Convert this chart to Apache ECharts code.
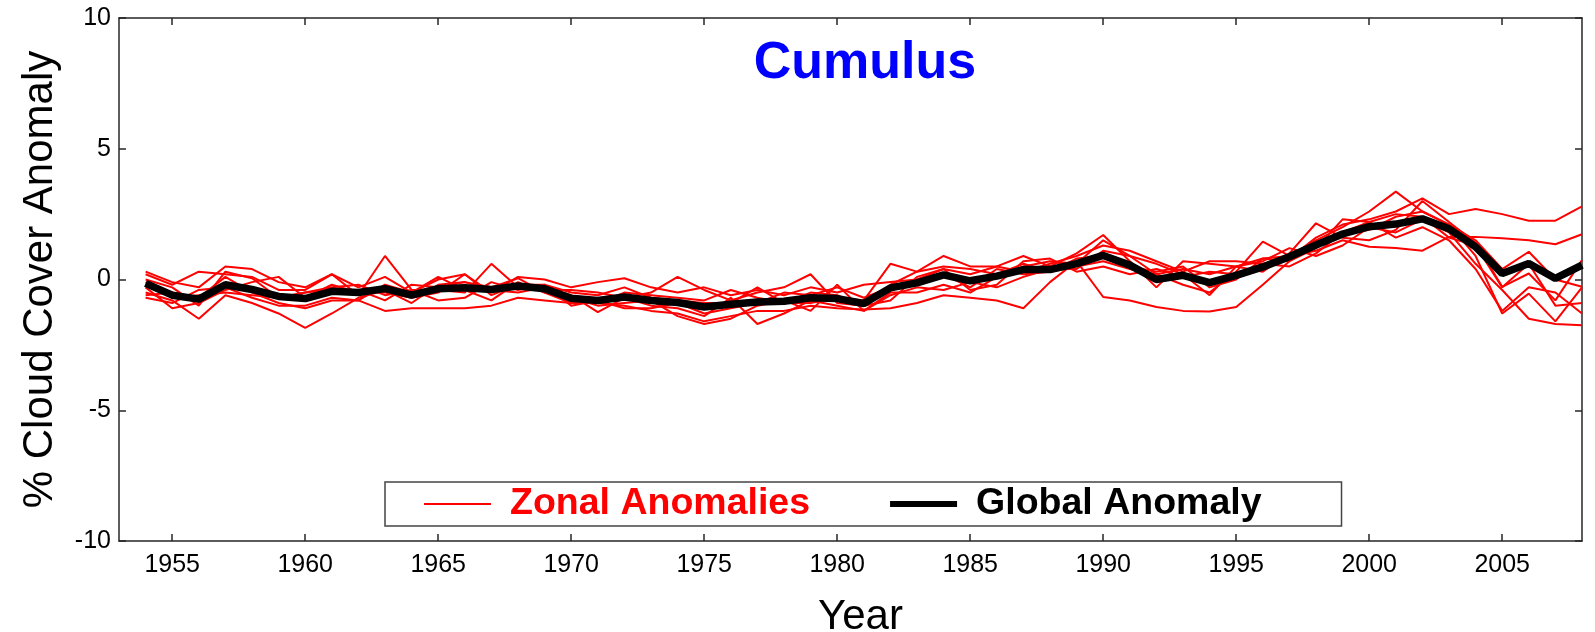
<!DOCTYPE html>
<html>
<head>
<meta charset="utf-8">
<script src="https://cdn.jsdelivr.net/npm/echarts@6/dist/echarts.min.js"></script>
<style>
html,body{margin:0;padding:0;background:#fff;}
#chart{width:1595px;height:632px;}
</style>
</head>
<body>
<div id="chart"></div>
<script>
const years = [1954,1955,1956,1957,1958,1959,1960,1961,1962,1963,1964,1965,1966,1967,1968,1969,1970,1971,1972,1973,1974,1975,1976,1977,1978,1979,1980,1981,1982,1983,1984,1985,1986,1987,1988,1989,1990,1991,1992,1993,1994,1995,1996,1997,1998,1999,2000,2001,2002,2003,2004,2005,2006,2007,2008];
const xTicks = [1955,1960,1965,1970,1975,1980,1985,1990,1995,2000,2005];
const yTicks = [-10,-5,0,5,10];

const globalAnomaly = [-0.15,-0.6,-0.75,-0.2,-0.38,-0.65,-0.73,-0.45,-0.5,-0.35,-0.6,-0.35,-0.32,-0.38,-0.25,-0.35,-0.72,-0.8,-0.67,-0.8,-0.88,-1.05,-0.95,-0.86,-0.83,-0.7,-0.73,-0.92,-0.32,-0.13,0.18,-0.05,0.13,0.38,0.38,0.61,0.92,0.55,0.0,0.16,-0.12,0.16,0.48,0.87,1.32,1.74,2.02,2.12,2.32,1.94,1.25,0.23,0.61,0.04,0.55];

const zonal1 = [0.3,-0.1,-0.3,0.5,0.4,-0.1,-0.3,0.2,-0.3,0.1,-0.5,0.0,0.2,-0.5,0.1,0.0,-0.3,-0.1,0.05,-0.3,-0.5,-0.3,-0.6,-0.4,-0.6,-0.3,-0.5,-0.2,-0.1,0.0,0.4,0.2,0.5,0.3,0.6,0.9,1.3,1.1,0.7,0.3,0.7,0.7,0.6,0.8,1.6,2.1,2.3,2.6,3.1,2.5,2.7,2.5,2.25,2.25,2.8];
const zonal2 = [0.0,-0.3,-1.0,0.3,0.05,-0.7,-0.5,-0.4,-0.4,-0.8,-0.2,-0.3,-0.1,-0.3,0.05,-0.5,-0.9,-0.9,-0.5,-0.6,-0.7,-0.8,-0.4,-0.7,-0.9,-0.9,-0.7,-0.8,0.6,0.3,0.5,0.4,0.2,0.6,0.3,0.5,0.7,0.4,0.2,0.4,0.2,0.5,0.8,0.9,1.1,1.5,1.25,1.2,1.1,1.63,1.63,1.58,1.5,1.35,1.73];
const zonal3 = [-0.7,-0.9,-0.4,-0.3,-0.7,-1.0,-1.0,-0.7,-0.8,-1.2,-1.1,-1.1,-1.1,-1.0,-0.7,-0.8,-0.9,-0.9,-1.0,-1.2,-1.3,-1.6,-1.4,-1.2,-1.2,-1.0,-1.1,-1.15,-1.1,-0.9,-0.6,-0.7,-0.8,-1.1,-0.1,0.7,-0.67,-0.8,-1.05,-1.2,-1.22,-1.05,-0.2,0.7,1.3,1.7,1.9,2.4,2.6,2.1,1.5,0.4,1.06,0.0,-0.28];
const zonal4 = [-0.5,-0.8,-1.5,-0.6,-0.9,-1.3,-1.85,-1.3,-0.7,-0.4,-0.9,-0.2,-0.1,-0.4,-0.5,-0.3,-0.6,-1.25,-0.7,-1.0,-1.1,-1.4,-0.7,-1.7,-1.3,-0.8,-1.0,-1.2,-0.5,-0.5,-0.2,-0.5,0.1,0.5,0.7,0.6,1.5,0.9,0.2,-0.2,-0.5,0.3,1.45,0.9,1.5,2.0,2.6,3.36,2.6,2.1,0.9,-1.3,-0.54,-1.6,-0.3];
const zonal5 = [0.2,-0.2,0.3,0.2,0.1,-0.4,-0.4,0.2,-0.6,0.9,-0.4,-0.4,-0.5,0.6,-0.3,-0.4,-0.4,-0.5,-0.7,-0.5,0.1,-0.4,-0.8,-0.5,-0.3,0.2,-0.9,-1.0,-0.2,0.3,0.9,0.5,0.5,0.9,0.5,1.0,1.7,0.7,-0.3,0.7,0.6,0.5,0.3,1.0,2.15,1.6,1.5,1.9,3.0,2.2,1.4,-0.28,0.23,-0.8,0.74];
const zonal6 = [-0.3,-1.1,-0.9,-0.4,-0.1,0.1,-0.7,-0.2,-0.5,-0.5,-0.7,-0.5,0.2,-0.6,-0.2,-0.2,-1.0,-0.8,-1.1,-1.1,-0.9,-1.3,-1.1,-0.9,-0.5,-0.6,-0.3,-0.7,-0.3,-0.1,0.2,-0.3,0.4,0.2,0.3,0.8,0.9,0.5,0.3,0.5,-0.3,0.0,0.8,0.7,1.2,2.3,2.2,1.6,2.0,1.5,0.4,-1.2,-0.3,-0.5,-1.3];
const zonal7 = [-0.6,-0.5,-0.7,0.1,-0.5,-0.9,-1.1,-0.8,-0.8,-0.2,-0.5,0.1,-0.4,-0.8,-0.1,-0.5,-0.7,-1.0,-0.9,-0.8,-1.4,-1.7,-1.5,-1.0,-0.8,-1.2,-0.2,-1.2,-0.6,-0.3,-0.4,-0.1,-0.3,0.1,0.4,0.4,1.1,0.9,0.6,0.2,-0.6,0.5,0.7,1.2,0.9,1.3,2.0,1.8,2.3,1.8,0.6,-0.4,-1.5,-1.7,-1.75];
const zonal8 = [-0.1,-0.7,-0.6,-0.5,-0.6,-0.7,-0.5,-0.3,-0.2,-0.6,-0.4,-0.8,-0.7,-0.1,-0.4,-0.2,-0.5,-0.6,-0.3,-0.7,-0.8,-0.9,-0.9,-0.3,-0.9,-0.5,-0.6,-1.0,-0.8,0.1,0.4,-0.4,-0.2,0.7,0.8,0.3,0.5,0.2,0.4,0.1,0.3,0.2,0.6,0.5,1.0,1.8,2.2,2.5,2.4,1.6,1.3,-0.3,0.6,-1.0,-0.9];

const zonalSeries = [zonal1, zonal2, zonal3, zonal4, zonal5, zonal6, zonal7, zonal8];

const pair = arr => years.map((y, i) => [y, arr[i]]);
const FONT = 'Liberation Sans, Arial, Helvetica, sans-serif';
const axisCol = '#262626';

const series = zonalSeries.map(z => ({
  name: 'Zonal Anomalies', type: 'line', data: pair(z), symbol: 'none',
  lineStyle: { color: '#ff0000', width: 2 }, itemStyle: { color: '#ff0000' }, z: 2
}));
series.push({
  name: 'Global Anomaly', type: 'line', data: pair(globalAnomaly), symbol: 'none',
  lineStyle: { color: '#000000', width: 7.5 }, itemStyle: { color: '#000000' }, z: 3
});

const chart = echarts.init(document.getElementById('chart'), null, { renderer: 'canvas' });
chart.setOption({
  backgroundColor: '#ffffff',
  animation: false,
  title: {
    text: 'Cumulus', left: 860, top: 33, textAlign: 'center',
    textStyle: { color: '#0000ff', fontSize: 52, fontWeight: 'bold', fontFamily: FONT }
  },
  grid: { left: 119, right: 13, top: 18, bottom: 91, containLabel: false, outerBoundsMode: 'none' },
  legend: {
    left: 385, top: 482, orient: 'horizontal',
    padding: [3, 80, 3, 38],
    itemGap: 77, itemWidth: 67, itemHeight: 20,
    borderColor: '#444', borderWidth: 1.5,
    backgroundColor: '#fff',
    itemStyle: { opacity: 0 },
    textStyle: { fontSize: 37.5, fontWeight: 'bold', fontFamily: FONT, padding: [0, 0, 0, 14] },
    data: [
      { name: 'Zonal Anomalies', textStyle: { color: '#ff0000' }, lineStyle: { width: 2 }, itemStyle: { opacity: 0 } },
      { name: 'Global Anomaly', textStyle: { color: '#000000' }, lineStyle: { width: 6 }, itemStyle: { opacity: 0 } }
    ]
  },
  xAxis: [{
    type: 'value', min: 1953, max: 2008, position: 'bottom',
    name: 'Year', nameLocation: 'middle', nameGap: 55,
    nameTextStyle: { fontSize: 42, color: '#000', fontFamily: FONT, padding: [0, 0, 0, 20] },
    axisLine: { show: true, onZero: false, lineStyle: { color: axisCol, width: 1.5 } },
    axisTick: { show: true, inside: true, length: 7, customValues: xTicks, lineStyle: { color: axisCol, width: 1.5 } },
    axisLabel: { show: true, customValues: xTicks, margin: 12, fontSize: 25, color: '#000', fontFamily: FONT, formatter: v => String(v) },
    splitLine: { show: false }
  }, {
    type: 'value', min: 1953, max: 2008, position: 'top',
    axisLine: { show: true, onZero: false, lineStyle: { color: axisCol, width: 1.5 } },
    axisTick: { show: true, inside: true, length: 7, customValues: xTicks, lineStyle: { color: axisCol, width: 1.5 } },
    axisLabel: { show: false },
    splitLine: { show: false }
  }],
  yAxis: [{
    type: 'value', min: -10, max: 10, interval: 5, position: 'left',
    name: '% Cloud Cover Anomaly', nameLocation: 'middle', nameGap: 58,
    nameTextStyle: { fontSize: 42, color: '#000', fontFamily: FONT },
    axisLine: { show: true, onZero: false, lineStyle: { color: axisCol, width: 1.5 } },
    axisTick: { show: true, inside: true, length: 7, lineStyle: { color: axisCol, width: 1.5 } },
    axisLabel: { show: true, margin: 8, fontSize: 25, color: '#000', fontFamily: FONT, customValues: yTicks },
    splitLine: { show: false }
  }, {
    type: 'value', min: -10, max: 10, interval: 5, position: 'right',
    axisLine: { show: true, onZero: false, lineStyle: { color: axisCol, width: 1.5 } },
    axisTick: { show: true, inside: true, length: 7, lineStyle: { color: axisCol, width: 1.5 } },
    axisLabel: { show: false },
    splitLine: { show: false }
  }],
  series: series
});
</script>
</body>
</html>
